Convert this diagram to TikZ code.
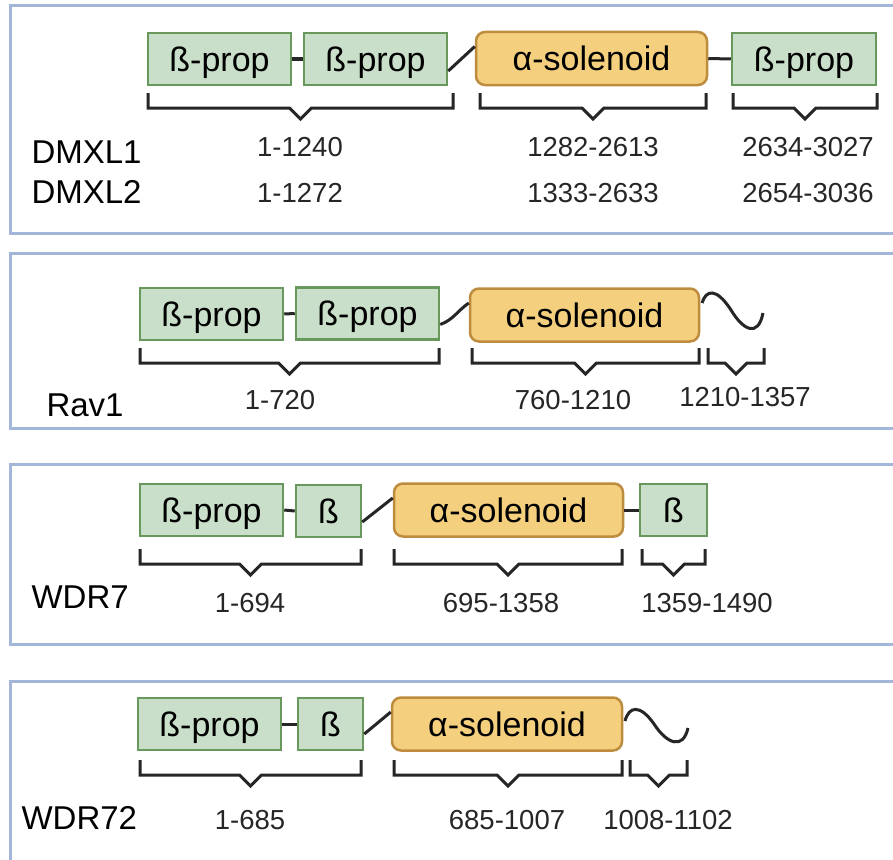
\documentclass[tikz,border=0pt]{standalone}
\usepackage{fontspec}
\setmainfont{Liberation Sans}
\definecolor{propfill}{RGB}{201,223,201}
\definecolor{propline}{RGB}{104,152,92}
\definecolor{solfill}{RGB}{243,207,126}
\definecolor{solline}{RGB}{190,140,62}
\definecolor{panelline}{RGB}{163,181,217}
\definecolor{ink}{RGB}{38,38,38}
\tikzset{x=1pt,y=-1pt}
\tikzset{
    prop/.style={draw=propline,fill=propfill,line width=2.5pt,minimum height=52pt,
        inner sep=0pt,text depth=0pt,font=\fontsize{34}{40}\selectfont},
    solenoid/.style={draw=solline,fill=solfill,line width=2.5pt,rounded corners=9pt,
        minimum height=53pt,inner sep=0pt,font=\fontsize{34}{40}\selectfont},
    link/.style={draw=ink,line width=3pt},
    bracket/.style={draw=ink,line width=3pt},
    panel/.style={draw=panelline,line width=3pt},
    residues/.style={font=\fontsize{27.5}{32}\selectfont,text=ink},
    gene/.style={anchor=west,font=\fontsize{33}{38}\selectfont,text=black}
}
% bracket under a domain: left x, right x, top y
\newcommand{\rangebrace}[3]{%
    \draw[bracket] (#1,#3) -- ++(0,15) -- ({(#1+#2)/2-11},#3+15) -- ({(#1+#2)/2},#3+26)
        -- ({(#1+#2)/2+11},#3+15) -- (#2,#3+15) -- (#2,#3);}
\begin{document}
\begin{tikzpicture}
    \path[use as bounding box,clip] (0,0) rectangle (893,859);
    \fill[white] (0,0) rectangle (893,859);

    % DMXL1 / DMXL2
    \draw[panel] (10,6) rectangle (905,233);
    \node[prop,minimum width=143pt] (p1a) at (219.5,59) {ß-prop};
    \node[prop,minimum width=143pt] (p1b) at (375.5,59) {ß-prop};
    \node[solenoid,minimum width=231pt] (p1s) at (591.5,58.5) {α-solenoid};
    \node[prop,minimum width=144pt] (p1c) at (804,59) {ß-prop};
    \draw[link] (p1a.east) -- (p1b.west);
    \draw[link] ([yshift=-12pt]p1b.east) -- ([yshift=12pt]p1s.west);
    \draw[link] (p1s.east) -- (p1c.west);
    \rangebrace{148}{453}{93}
    \rangebrace{480}{706}{93}
    \rangebrace{733}{877}{93}
    \node[gene] (dmxl1) at (28,152) {DMXL1};
    \node[gene] (dmxl2) at (28,192) {DMXL2};
    \node[residues] at (300,147) {1-1240};
    \node[residues] at (593,147) {1282-2613};
    \node[residues] at (808,147) {2634-3027};
    \node[residues] at (300,193) {1-1272};
    \node[residues] at (593,193) {1333-2633};
    \node[residues] at (808,193) {2654-3036};

    % Rav1
    \draw[panel] (10,253) rectangle (905,428);
    \node[prop,minimum width=143pt] (p2a) at (211.5,314) {ß-prop};
    \node[prop,minimum width=143pt] (p2b) at (367.5,313.5) {ß-prop};
    \node[solenoid,minimum width=229pt] (p2s) at (584.5,315) {α-solenoid};
    \coordinate (p2t) at (702,303);
    \coordinate (p2e) at (763,313);
    \draw[link] (p2a.east) -- (p2b.west);
    \draw[link] ([yshift=-11pt]p2b.east) to[out=20,in=215] ([yshift=12pt]p2s.west);
    \draw[link] (p2t) .. controls (706,290) and (716,287) .. (731,310)
        .. controls (743,330) and (758,338) .. (p2e);
    \rangebrace{140}{439}{348}
    \rangebrace{472}{699}{348}
    \rangebrace{708}{764}{348}
    \node[gene] (rav1) at (43,405) {Rav1};
    \node[residues] at (280,400) {1-720};
    \node[residues] at (573,400) {760-1210};
    \node[residues] at (745,397) {1210-1357};

    % WDR7
    \draw[panel] (10,464) rectangle (905,644);
    \node[prop,minimum width=143pt] (p3a) at (211.5,510) {ß-prop};
    \node[prop,minimum width=65pt] (p3b) at (328.5,511) {ß};
    \node[solenoid,minimum width=229pt] (p3s) at (508.5,510) {α-solenoid};
    \node[prop,minimum width=67pt] (p3c) at (673.5,510) {ß};
    \draw[link] (p3a.east) -- (p3b.west);
    \draw[link] ([yshift=-11pt]p3b.east) -- ([yshift=12pt]p3s.west);
    \draw[link] (p3s.east) -- (p3c.west);
    \rangebrace{140}{361}{549}
    \rangebrace{394}{622}{549}
    \rangebrace{642}{705}{549}
    \node[gene] (wdr7) at (28,597) {WDR7};
    \node[residues] at (250,603) {1-694};
    \node[residues] at (501,603) {695-1358};
    \node[residues] at (707,603) {1359-1490};

    % WDR72
    \draw[panel] (10,681) rectangle (905,862);
    \node[prop,minimum width=143pt] (p4a) at (209.5,724) {ß-prop};
    \node[prop,minimum width=65pt] (p4b) at (330.5,724) {ß};
    \node[solenoid,minimum width=230pt] (p4s) at (507,724) {α-solenoid};
    \coordinate (p4t) at (625,721);
    \coordinate (p4e) at (688,728);
    \draw[link] (p4a.east) -- (p4b.west);
    \draw[link] ([yshift=-10pt]p4b.east) -- ([yshift=12pt]p4s.west);
    \draw[link] (p4t) .. controls (629,706) and (640,704) .. (654,724)
        .. controls (667,744) and (683,750) .. (p4e);
    \rangebrace{140}{361}{760}
    \rangebrace{394}{622}{760}
    \rangebrace{630}{687}{760}
    \node[gene] (wdr72) at (18,818) {WDR72};
    \node[residues] at (250,820) {1-685};
    \node[residues] at (507,820) {685-1007};
    \node[residues] at (668,820) {1008-1102};
\end{tikzpicture}
\end{document}
